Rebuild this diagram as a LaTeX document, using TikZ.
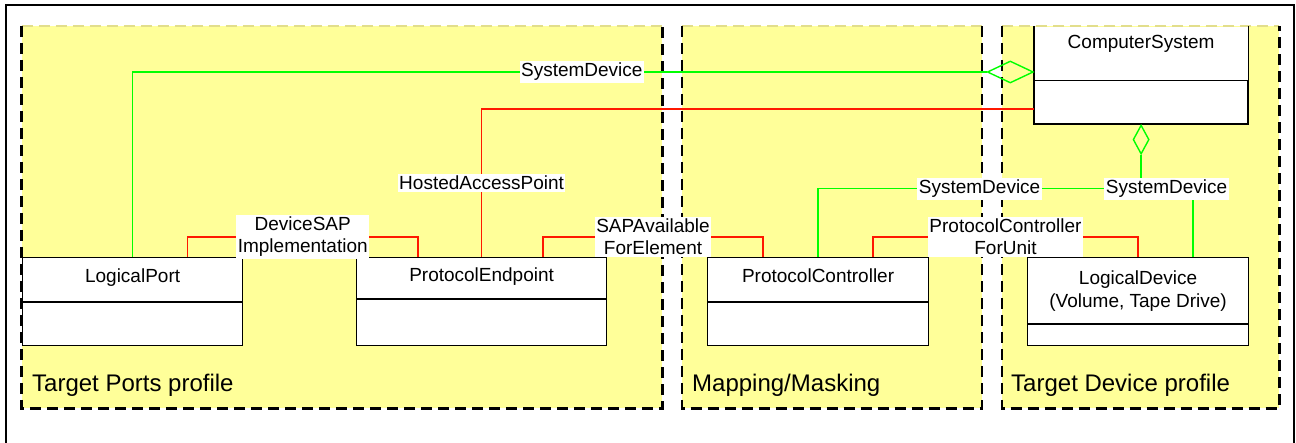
\documentclass[tikz,border=0pt]{standalone}
\usepackage{fontspec}
\setmainfont{Liberation Sans}
\usetikzlibrary{shapes.geometric}
\definecolor{regfill}{RGB}{255,255,153}
\definecolor{regtop}{RGB}{226,222,140}
\definecolor{sysgreen}{RGB}{0,255,0}
\definecolor{assocred}{RGB}{255,24,0}
\begin{document}
\begin{tikzpicture}[x=1pt,y=-1pt,
  region/.style={fill=regfill, inner sep=0, anchor=north west},
  regedge/.style={line width=2.6pt, dash pattern=on 11pt off 6pt},
  regname/.style={anchor=base west, inner sep=0, font=\fontsize{24}{28}\selectfont},
  clsname/.style={draw, fill=white, line width=1.2pt, inner sep=0, anchor=north west, font=\fontsize{19}{23}\selectfont},
  clsbody/.style={draw, fill=white, line width=1.2pt, inner sep=0, anchor=north},
  oneline/.style={text height=14pt, text depth=8pt},
  lbl/.style={fill=white, inner xsep=1.5pt, inner ysep=2pt, align=center, font=\fontsize{19}{22}\selectfont},
  sysdev/.style={draw=sysgreen, line width=1.4pt},
  assocline/.style={draw=assocred, line width=1.4pt},
  agg/.style={diamond, draw=sysgreen, line width=1.4pt, inner sep=0}]
\useasboundingbox (0,0) rectangle (1296,443);
\draw[line width=2.4pt] (6,445) |- (1294,5) -- (1294,445);
\node[region, minimum width=640.5pt, minimum height=382pt] (rport) at (21.5,26) {};
\node[region, minimum width=299.5pt, minimum height=382pt] (rmap) at (682,26) {};
\node[region, minimum width=277pt, minimum height=382pt] (rdev) at (1002,26) {};
\foreach \r in {rport,rmap,rdev}{
  \draw[regtop, line width=1.2pt, dash pattern=on 11pt off 6pt] (\r.north west) -- (\r.north east);
  \draw[regedge] (\r.north west) |- (\r.south east) -- (\r.north east);
}
\node[regname] (nport) at ([xshift=10.5pt, yshift=17pt]rport.south west) {Target Ports profile};
\node[regname] (nmap) at ([xshift=10pt, yshift=17pt]rmap.south west) {Mapping/Masking};
\node[regname] (ndev) at ([xshift=9pt, yshift=17pt]rdev.south west) {Target Device profile};
\node[clsname, oneline, minimum width=220pt, minimum height=44pt] (lport) at (22,257) {LogicalPort};
\node[clsbody, minimum width=220pt, minimum height=43pt] (lportb) at (lport.south) {};
\node[clsname, oneline, minimum width=250pt, minimum height=41pt] (pend) at (356,257) {ProtocolEndpoint};
\node[clsbody, minimum width=250pt, minimum height=46pt] (pendb) at (pend.south) {};
\node[clsname, oneline, minimum width=221pt, minimum height=44pt] (pctrl) at (707,257) {ProtocolController};
\node[clsbody, minimum width=221pt, minimum height=43pt] (pctrlb) at (pctrl.south) {};
\node[clsname, align=center, minimum width=221pt, minimum height=66pt] (ldev) at (1027,257) {LogicalDevice\\(Volume, Tape Drive)};
\node[clsbody, minimum width=221pt, minimum height=21pt] (ldevb) at (ldev.south) {};
\node[clsname, draw=none, text height=14pt, text depth=23pt, minimum width=213pt, minimum height=53pt] (csys) at (1034,26) {ComputerSystem};
\node[clsbody, minimum width=213pt, minimum height=43pt] (csysb) at (csys.south) {};
\draw[line width=1.2pt] (csys.north west) |- (csysb.south east) -- (csys.north east);
\node[agg, minimum width=46pt, minimum height=22pt, anchor=east] (agg1) at ([yshift=-46pt]csys.north west) {};
\node[agg, minimum width=16pt, minimum height=29pt, anchor=north] (agg2) at (csysb.south) {};
\coordinate (jn) at ([yshift=-34pt]agg2.south);
\draw[sysdev] (lport.north) |- (agg1.west) node[lbl, pos=0.763] {SystemDevice};
\draw[sysdev] (pctrl.north) |- (jn) node[lbl, pos=0.75] {SystemDevice} -- (agg2.south);
\draw[sysdev] ([xshift=166pt]ldev.north west) |- (jn) node[lbl, pos=0.755] {SystemDevice};
\draw[assocline] (pend.north) |- ([yshift=-29pt]csysb.north west) node[lbl, pos=0.25] {HostedAccessPoint};
\draw[assocline] ([xshift=165.5pt]lport.north west) |- ([xshift=62pt, yshift=20pt]pend.north west) node[lbl, pos=0.75] {DeviceSAP\\Implementation} -- ([xshift=62pt]pend.north west);
\draw[assocline] ([xshift=187pt]pend.north west) |- ([xshift=56pt, yshift=20pt]pctrl.north west) node[lbl, pos=0.75] {SAPAvailable\\ForElement} -- ([xshift=56pt]pctrl.north west);
\draw[assocline] ([xshift=166pt]pctrl.north west) |- ([xshift=111pt, yshift=20pt]ldev.north west) node[lbl, pos=0.75] {ProtocolController\\ForUnit} -- ([xshift=111pt]ldev.north west);
\end{tikzpicture}
\end{document}
